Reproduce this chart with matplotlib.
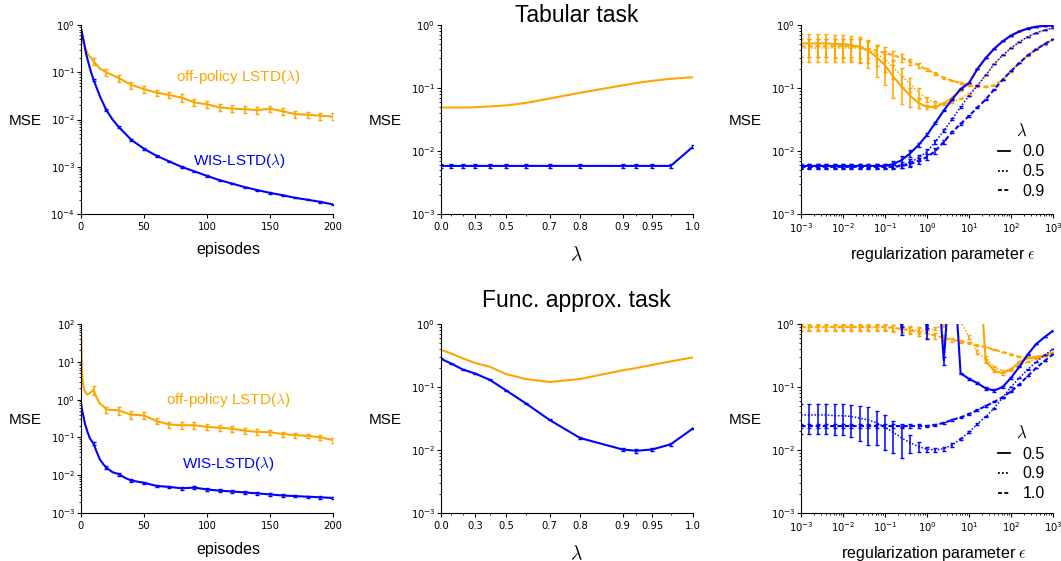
import numpy as np
import matplotlib
matplotlib.use("Agg")
import matplotlib.pyplot as plt
from matplotlib.lines import Line2D
from matplotlib.font_manager import FontProperties
from matplotlib.ticker import LogLocator, NullFormatter, FixedLocator, FixedFormatter

ORANGE = "#FFA500"
BLUE = "#0000FF"
SANS = "Liberation Sans"

# ---------------- Tabular task: MSE vs episodes ----------------
tab_episodes = [0, 2, 4, 6, 8, 10, 15, 20, 25, 30, 40, 50, 60, 70, 80, 90, 100,
                110, 120, 130, 140, 150, 160, 170, 180, 190, 200]
tab_wis = [0.85, 0.48, 0.25, 0.155, 0.10, 0.069, 0.031, 0.016, 0.010, 0.0069,
           0.0037, 0.0024, 0.0017, 0.0013, 0.00099, 0.00080, 0.00064, 0.00052, 0.00044,
           0.00037, 0.00032, 0.00028, 0.00025, 0.00022, 0.00020, 0.00018, 0.00016]
tab_off = [0.85, 0.41, 0.30, 0.23, 0.20, 0.17, 0.12, 0.10, 0.087, 0.075,
           0.054, 0.044, 0.037, 0.033, 0.029, 0.023, 0.021, 0.018, 0.017,
           0.0165, 0.0158, 0.017, 0.015, 0.013, 0.0126, 0.012, 0.0115]
err_episodes = [10, 20, 30, 40, 50, 60, 70, 80, 90, 100, 110, 120, 130, 140, 150,
                160, 170, 180, 190, 200]
tab_wis_err = [0.004, 0.001, 0.0003, 0.00015, 0.0001, 6e-5, 4e-5, 3e-5, 2.5e-5, 2e-5,
               1.5e-5, 1.3e-5, 1.1e-5, 1e-5, 9e-6, 8e-6, 7e-6, 6e-6, 6e-6, 5e-6]
tab_off_err = [0.028, 0.016, 0.012, 0.009, 0.007, 0.006, 0.005, 0.005, 0.004, 0.0035,
               0.003, 0.0028, 0.0027, 0.0026, 0.0027, 0.0025, 0.0022, 0.0021, 0.002, 0.0019]

# ---------------- Func. approx. task: MSE vs episodes ----------------
fa_episodes = [0, 1, 2, 3, 5, 7, 10, 12, 15, 18, 20, 25, 30, 35, 40, 50, 60, 70, 80,
               90, 100, 110, 120, 130, 140, 150, 160, 170, 180, 190, 200]
fa_off = [70.0, 4.1, 2.2, 1.66, 1.35, 1.5, 1.8, 1.2, 0.78, 0.66, 0.55, 0.53, 0.52, 0.45,
          0.40, 0.38, 0.27, 0.22, 0.21, 0.21, 0.19, 0.18, 0.17, 0.15, 0.14, 0.137,
          0.123, 0.115, 0.11, 0.10, 0.085]
fa_wis = [0.81, 0.49, 0.36, 0.24, 0.145, 0.095, 0.068, 0.045, 0.026, 0.019, 0.016,
          0.012, 0.0107, 0.0085, 0.0072, 0.0063, 0.0052, 0.0049, 0.0045, 0.0047, 0.0042,
          0.0039, 0.0037, 0.0035, 0.0033, 0.0031, 0.0029, 0.0028, 0.0027, 0.0026, 0.0025]
fa_off_err = [0.5, 0.1, 0.12, 0.09, 0.08, 0.05, 0.04, 0.04, 0.04, 0.035, 0.03, 0.03,
              0.025, 0.022, 0.02, 0.02, 0.018, 0.016, 0.015, 0.013]
fa_wis_err = [0.006, 0.0015, 0.001, 0.0006, 0.0005, 0.0004, 0.0004, 0.00035, 0.00035,
              0.0003, 0.0003, 0.0003, 0.00025, 0.00025, 0.00025, 0.0002, 0.0002, 0.0002,
              0.0002, 0.0002]

# ---------------- MSE vs lambda ----------------
lambdas = [0.0, 0.1, 0.2, 0.3, 0.4, 0.5, 0.6, 0.7, 0.8, 0.9, 0.925, 0.95, 0.975, 1.0]
lam_major = [0.0, 0.3, 0.5, 0.7, 0.8, 0.9, 0.95, 1.0]
lam_major_labels = ["0.0", "0.3", "0.5", "0.7", "0.8", "0.9", "0.95", "1.0"]
lam_minor = [0.1, 0.2, 0.4, 0.6, 0.925, 0.975]
tab_lam_off = [0.049, 0.049, 0.049, 0.0495, 0.051, 0.053, 0.058, 0.068, 0.084, 0.11,
               0.12, 0.13, 0.14, 0.148]
tab_lam_wis = [0.0058, 0.0058, 0.0058, 0.0058, 0.0058, 0.0058, 0.0058, 0.0058, 0.0058,
               0.0058, 0.0058, 0.0058, 0.0058, 0.0117]
tab_lam_wis_err = [0.0004] * 13 + [0.0006]
fa_lam_off = [0.39, 0.34, 0.285, 0.24, 0.21, 0.16, 0.134, 0.12, 0.134, 0.184, 0.20,
              0.224, 0.255, 0.295]
fa_lam_wis = [0.28, 0.235, 0.19, 0.163, 0.13, 0.088, 0.055, 0.030, 0.0155, 0.0102,
              0.0097, 0.0102, 0.0123, 0.022]
fa_lam_wis_err = [0.004, 0.003, 0.003, 0.002, 0.002, 0.0015, 0.001, 0.0006, 0.0004,
                  0.0006, 0.0006, 0.0006, 0.0006, 0.0005]

# ---------------- MSE vs regularization parameter ----------------
eps = np.logspace(-3, 3, 31)

tr_labels = ["0.0", "0.5", "0.9"]
tr_wis = [
    [0.0058] * 11 + [0.0062, 0.0072, 0.0092, 0.0125, 0.018, 0.028, 0.044, 0.066, 0.097,
                     0.12, 0.20, 0.30, 0.42, 0.55, 0.68, 0.79, 0.88, 0.94, 0.97, 0.98],
    [0.0058] * 12 + [0.0060, 0.0066, 0.0078, 0.0098, 0.014, 0.021, 0.032, 0.050, 0.075,
                     0.11, 0.16, 0.24, 0.33, 0.43, 0.54, 0.65, 0.75, 0.83, 0.90],
    [0.0056] * 12 + [0.0058, 0.0062, 0.0070, 0.0080, 0.010, 0.014, 0.020, 0.027, 0.036,
                     0.049, 0.066, 0.095, 0.135, 0.185, 0.25, 0.33, 0.41, 0.50, 0.59],
]
tr_wis_err = [
    [0.0004] * 10 + [0.0005, 0.0008, 0.0012, 0.0012, 0.001, 0.001] + [0.001] * 15,
    [0.0004] * 12 + [0.0006, 0.0008, 0.0009, 0.001] + [0.001] * 15,
    [0.0004] * 12 + [0.0005, 0.0007, 0.0008, 0.0009] + [0.001] * 15,
]
tr_off = [
    [0.51, 0.51, 0.51, 0.51, 0.50, 0.50, 0.48, 0.45, 0.39, 0.31, 0.23, 0.15, 0.105, 0.075,
     0.058, 0.050, 0.050, 0.057, 0.070, 0.092, 0.12, 0.20, 0.30, 0.42, 0.55, 0.68, 0.79,
     0.88, 0.94, 0.97, 0.98],
    [0.43] * 8 + [0.40, 0.35, 0.28, 0.21, 0.155, 0.115, 0.085, 0.066, 0.058, 0.056, 0.060,
                  0.068, 0.08, 0.11, 0.16, 0.24, 0.33, 0.43, 0.54, 0.65, 0.75, 0.83, 0.90],
    [0.46] * 7 + [0.45, 0.42, 0.39, 0.36, 0.33, 0.30, 0.26, 0.23, 0.195, 0.17, 0.145, 0.13,
                  0.12, 0.11, 0.105, 0.105, 0.11, 0.135, 0.185, 0.25, 0.33, 0.41, 0.50, 0.59],
]
tr_off_err = [
    [0.20] * 8 + [0.18, 0.16, 0.12, 0.08, 0.05, 0.025, 0.01, 0.004] + [0.002] * 15,
    [0.17] * 8 + [0.15, 0.13, 0.10, 0.07, 0.05, 0.03, 0.015, 0.007, 0.004] + [0.002] * 14,
    [0.15] * 8 + [0.12, 0.10, 0.08, 0.06, 0.045, 0.03, 0.02, 0.012, 0.008, 0.005] + [0.003] * 13,
]

br_labels = ["0.5", "0.9", "1.0"]
br_wis = [
    [20.0] * 12 + [0.78, 20.0, 20.0, 0.72, 20.0, 0.26, 20.0, 0.165, 0.135, 0.115, 0.095,
                   0.088, 0.10, 0.14, 0.21, 0.33, 0.48, 0.62, 0.78],
    [0.036, 0.036, 0.036, 0.036, 0.035, 0.035, 0.034, 0.032, 0.030, 0.027, 0.023, 0.019,
     0.0155, 0.013, 0.0113, 0.0103, 0.0100, 0.0105, 0.0120, 0.0150, 0.019, 0.026, 0.034,
     0.046, 0.068, 0.10, 0.14, 0.19, 0.25, 0.32, 0.40],
    [0.024] * 16 + [0.025, 0.027, 0.030, 0.033, 0.037, 0.043, 0.050, 0.058, 0.069, 0.085,
                    0.11, 0.15, 0.20, 0.26, 0.33],
]
br_wis_err = [
    [0.0] * 12 + [0.12, 0.0, 0.0, 0.15, 0.0, 0.04, 0.0] + [0.004] * 12,
    [0.018] * 9 + [0.015, 0.013, 0.010, 0.008, 0.004, 0.002, 0.001] + [0.0007] * 15,
    [0.0015] * 15 + [0.001] * 16,
]
br_off = [
    [20.0] * 22 + [0.26, 0.18, 0.165, 0.19, 0.25, 0.29, 0.30, 0.32, 0.35],
    [0.88] * 11 + [0.86, 0.84, 0.82, 0.80, 0.78, 0.85, 0.95, 1.1, 1.1, 0.62, 0.36, 0.28,
                   0.21, 0.18, 0.19, 0.22, 0.25, 0.28, 0.32, 0.36],
    [0.90] * 11 + [0.87, 0.83, 0.79, 0.75, 0.71, 0.65, 0.60, 0.56, 0.53, 0.50, 0.46, 0.43,
                   0.39, 0.36, 0.33, 0.30, 0.29, 0.29, 0.31, 0.34],
]
br_off_err = [
    [0.0] * 22 + [0.02, 0.01, 0.008, 0.008, 0.006, 0.005, 0.005, 0.005, 0.005],
    [0.10] * 15 + [0.08, 0.06, 0.05, 0.05, 0.05, 0.04, 0.03, 0.035] + [0.005] * 8,
    [0.10] * 16 + [0.08, 0.06, 0.04, 0.03, 0.02] + [0.005] * 10,
]

# ---------------- figure ----------------
W, H = 1061, 561
fig = plt.figure(figsize=(W / 100, H / 100), dpi=100)


def add_ax(x0, ytop):
    return fig.add_axes([x0 / W, (H - ytop - 189) / H, 252 / W, 189 / H])


def style(ax, ylim):
    for s in ["top", "right"]:
        ax.spines[s].set_visible(False)
    ax.set_yscale("log")
    ax.set_ylim(*ylim)
    ax.yaxis.set_major_locator(LogLocator(base=10, numticks=20))
    ax.yaxis.set_minor_locator(LogLocator(base=10, subs=np.arange(2, 10), numticks=20))
    ax.yaxis.set_minor_formatter(NullFormatter())
    ax.tick_params(which="major", length=3, width=0.8, labelsize=7.2, direction="out")
    ax.tick_params(which="minor", length=1.6, width=0.6)
    ax.tick_params(axis="y", which="both", pad=1.2)
    ax.tick_params(axis="x", which="both", pad=2.5)
    ax.set_ylabel("MSE", rotation=0, ha="right", va="center", fontsize=11, family=SANS)
    ax.yaxis.set_label_coords(-0.155, 0.49)


def line_err(ax, x, y, err, color, ls="-", lw=1.5, mask=None):
    x = np.asarray(x, float)
    y = np.asarray(y, float)
    ax.plot(x, y, color=color, ls=ls, lw=lw)
    if mask is not None:
        x, y = x[mask], y[mask]
    ax.errorbar(x, y, yerr=np.asarray(err, float), fmt="none", ecolor=color,
                elinewidth=1.1, capsize=1.5, capthick=1.0)


# ---- episodes panels ----
def episodes_panel(ytop, ep, wis, off, wis_err, off_err, ylim, txt_off, txt_wis, xlab_y):
    ax = add_ax(81, ytop)
    style(ax, ylim)
    ep = np.asarray(ep)
    mask = np.isin(ep, err_episodes)
    line_err(ax, ep, off, off_err, ORANGE, mask=mask)
    line_err(ax, ep, wis, wis_err, BLUE, mask=mask)
    ax.set_xlim(0, 200)
    ax.set_xticks([0, 50, 100, 150, 200])
    ax.set_xlabel("episodes", fontsize=11.5, family=SANS)
    ax.xaxis.set_label_coords(0.585, xlab_y)
    ax.text(txt_off[0], txt_off[1], "off-policy LSTD($\\lambda$)", color=ORANGE,
            fontsize=11, family=SANS, math_fontfamily="cm", ha="center", va="center")
    ax.text(txt_wis[0], txt_wis[1], "WIS-LSTD($\\lambda$)", color=BLUE,
            fontsize=11, family=SANS, math_fontfamily="cm", ha="center", va="center")
    return ax


episodes_panel(25, tab_episodes, tab_wis, tab_off, tab_wis_err, tab_off_err,
               (1e-4, 1e0), (125, 0.079), (126, 1.32e-3), -0.149)
episodes_panel(324, fa_episodes, fa_wis, fa_off, fa_wis_err, fa_off_err,
               (1e-3, 1e2), (117, 0.98), (117, 0.020), -0.155)


# ---- lambda panels ----
def fwd(x):
    with np.errstate(invalid="ignore", divide="ignore"):
        return -np.log(1.11 - np.asarray(x, float))


def inv(y):
    return 1.11 - np.exp(-np.asarray(y, float))


def lambda_panel(ytop, off, wis, wis_err):
    ax = add_ax(441, ytop)
    style(ax, (1e-3, 1e0))
    ax.set_xscale("function", functions=(fwd, inv))
    ax.set_xlim(0, 1)
    ax.plot(lambdas, off, color=ORANGE, lw=1.5)
    line_err(ax, lambdas, wis, wis_err, BLUE)
    ax.xaxis.set_major_locator(FixedLocator(lam_major))
    ax.xaxis.set_major_formatter(FixedFormatter(lam_major_labels))
    ax.xaxis.set_minor_locator(FixedLocator(lam_minor))
    ax.xaxis.set_minor_formatter(NullFormatter())
    ax.set_xlabel("$\\lambda$", fontsize=14, math_fontfamily="cm")
    ax.xaxis.set_label_coords(0.538, -0.164)
    return ax


lambda_panel(25, tab_lam_off, tab_lam_wis, tab_lam_wis_err)
lambda_panel(324, fa_lam_off, fa_lam_wis, fa_lam_wis_err)


# ---- regularization panels ----
styles = [("-", 1.5), (0, (1, 1.2)), (0, (2.2, 1.3))]
widths = [1.5, 1.1, 1.5]


def reg_panel(ytop, off, off_err, wis, wis_err, labels, xlab_x, leg_y):
    ax = add_ax(801, ytop)
    style(ax, (1e-3, 1e0))
    ax.set_xscale("log")
    ax.set_xlim(1e-3, 1e3)
    ax.xaxis.set_major_locator(LogLocator(base=10, numticks=20))
    ax.xaxis.set_minor_locator(LogLocator(base=10, subs=np.arange(2, 10), numticks=20))
    ax.xaxis.set_minor_formatter(NullFormatter())
    for k in range(3):
        ls = "-" if k == 0 else styles[k]
        line_err(ax, eps, off[k], off_err[k], ORANGE, ls=ls, lw=widths[k])
    for k in range(3):
        ls = "-" if k == 0 else styles[k]
        line_err(ax, eps, wis[k], wis_err[k], BLUE, ls=ls, lw=widths[k])
    ax.set_xlabel("regularization parameter $\\epsilon$", fontsize=11.5, family=SANS,
                  math_fontfamily="cm")
    ax.xaxis.set_label_coords(xlab_x, -0.164)
    handles = [Line2D([], [], color="k", ls="-" if k == 0 else styles[k], lw=1.3)
               for k in range(3)]
    ax.legend(handles, labels, title="$\\lambda$", loc="lower right",
              bbox_to_anchor=(0.968, leg_y), frameon=False, borderpad=0,
              borderaxespad=0, handlelength=0.75, handletextpad=0.8, labelspacing=0.3,
              prop=FontProperties(family=SANS, size=11.5),
              title_fontproperties=FontProperties(size=12, math_fontfamily="cm"))
    return ax


reg_panel(25, tr_off, tr_off_err, tr_wis, tr_wis_err, tr_labels, 0.562, 0.079)
reg_panel(324, br_off, br_off_err, br_wis, br_wis_err, br_labels, 0.528, 0.063)

# ---- titles ----
fig.text(577 / W, 1 - 22 / H, "Tabular task", fontsize=16.5, family=SANS,
         ha="center", va="baseline")
fig.text(576 / W, 1 - 307 / H, "Func. approx. task", fontsize=16.5, family=SANS,
         ha="center", va="baseline")

fig.savefig("out.png", dpi=100)
